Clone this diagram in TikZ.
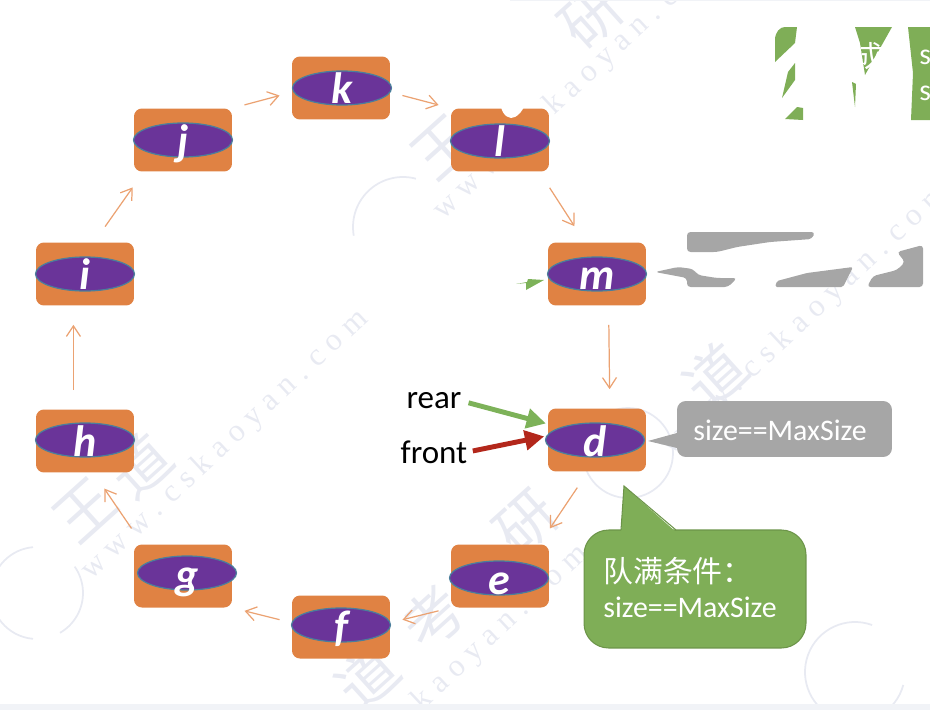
\documentclass[tikz,border=0pt]{standalone}
\usepackage{fontspec}
\setmainfont{Carlito}
\newfontfamily\cjk{Noto Sans CJK SC}
\newfontfamily\wmserif{Liberation Serif}
\usetikzlibrary{arrows.meta,shapes.geometric}
\definecolor{slotorange}{HTML}{E08243}
\definecolor{ovalpurple}{HTML}{6A3499}
\definecolor{ovalblue}{HTML}{4A7F9C}
\definecolor{flowline}{HTML}{EBA272}
\definecolor{notegreen}{HTML}{7FAE57}
\definecolor{noteedge}{HTML}{6C9449}
\definecolor{notegrey}{HTML}{A6A6A6}
\definecolor{rearline}{HTML}{7DB259}
\definecolor{frontline}{HTML}{B3271B}
\definecolor{wmcolor}{HTML}{E8EAF2}
\tikzset{
  slot/.style={draw=none,fill=slotorange,rounded corners=4.5pt,minimum width=1.96cm,minimum height=1.26cm,inner sep=0pt},
  oval/.style={ellipse,draw=ovalblue,line width=0.7pt,fill=ovalpurple,minimum width=1.98cm,minimum height=0.68cm,inner sep=0pt},
  letter/.style={text=white,inner sep=0pt,text height=0.64cm,text depth=0pt,font=\fontsize{25}{25}\selectfont\itshape\bfseries},
  flow/.style={draw=flowline,line width=0.7pt,-{Straight Barb[length=6pt,width=8pt]},shorten <=0.25cm,shorten >=0.25cm},
  flowlong/.style={flow,shorten <=0.38cm,shorten >=0.38cm},
  pointerlabel/.style={inner sep=0pt,font=\fontsize{18.8}{18.8}\selectfont},
  notetext/.style={text=white,inner sep=0pt,font=\fontsize{17}{21}\selectfont},
  wmtext/.style={text=wmcolor,inner sep=0pt,rotate=43,font=\wmserif\fontsize{18}{18}\selectfont},
  wmbig/.style={text=wmcolor,inner sep=0pt,rotate=42,font=\cjk\fontsize{34}{34}\selectfont},
  stamp/.style={draw=wmcolor,line width=1pt}
}
\begin{document}
\begin{tikzpicture}[x=0.02cm,y=-0.02cm]
	\useasboundingbox (0,0) rectangle (930,710);
	% watermark
	\node[wmtext] (wm1) at (225,445) {w w w . c s k a o y a n . c o m};
	\node[wmtext] (wm2) at (577,85) {w w w . c s k a o y a n . c o m};
	\node[wmtext] (wm3) at (805,320) {w w w . c s k a o y a n . c o m};
	\node[wmtext] (wm4) at (445,680) {w w w . c s k a o y a n . c o m};
	\node[wmbig] (wm5) at (85,510) {王};
	\node[wmbig] (wm6) at (140,465) {道};
	\node[wmbig] (wm7) at (443,147) {王};
	\node[wmbig] (wm8) at (592,17) {研};
	\node[wmbig] (wm9) at (527,523) {研};
	\node[wmbig] (wm10) at (433,617) {考};
	\node[wmbig] (wm11) at (367,677) {道};
	\node[wmbig] (wm12) at (715,375) {道};
	\draw[stamp] (37,593) ++(95:46) arc[start angle=95,end angle=265,radius=46];
	\draw[stamp] (37,593) ++(-35:46) arc[start angle=-35,end angle=60,radius=46];
	\draw[stamp] (403,227) ++(170:50) arc[start angle=170,end angle=285,radius=50];
	\draw[stamp] (628,453) circle (45);
	\draw[stamp] (855,672) ++(110:50) arc[start angle=110,end angle=290,radius=50];
	\draw[stamp] (855,672) ++(15:50) arc[start angle=15,end angle=60,radius=50];
	\fill[wmcolor!60] (0,704) rectangle (930,710);
	\fill[wmcolor!60] (510,0) rectangle (930,1);
	% slots
	\node[slot] (k) at (341,88) {};
	\node[slot] (j) at (183,140) {};
	\node[slot] (l) at (500,140) {};
	\node[slot] (i) at (85,274) {};
	\node[slot] (m) at (597,274) {};
	\node[slot] (h) at (85,441) {};
	\node[slot] (d) at (597,440) {};
	\node[slot] (g) at (183,576) {};
	\node[slot] (e) at (500,576) {};
	\node[slot] (f) at (341,627) {};
	% ovals
	\node[oval] (ko) at (342,88) {};
	\node[oval] (jo) at (183,140) {};
	\node[oval] (lo) at (500,141) {};
	\node[oval] (io) at (85,274) {};
	\node[oval] (mo) at (597,274) {};
	\node[oval] (ho) at (85,440) {};
	\node[oval] (do) at (595,440) {};
	\node[oval] (go) at (187,573) {};
	\node[oval] (eo) at (499,578) {};
	\node[oval] (fo) at (341,625) {};
	% letters
	\node[letter] (kt) at (ko) {k};
	\node[letter] (jt) at (jo) {j};
	\node[letter] (lt) at (lo) {l};
	\node[letter] (it) at (io) {i};
	\node[letter] (mt) at (mo) {m};
	\node[letter] (ht) at (ho) {h};
	\node[letter] (dt) at (do) {d};
	\node[letter] (gt) at (go) {g};
	\node[letter] (et) at (eo) {e};
	\node[letter] (ft) at (fo) {f};
	\fill[white] (501,107) .. controls (503,116) and (510,120) .. (515,117) .. controls (519,115) and (522,111) .. (524,107) -- cycle;
	% queue links
	\draw[flow] (j.north east) -- (k.185);
	\draw[flow] (k.-5) -- (l.north west);
	\draw[flowlong] (l.-39) -- (m.111);
	\draw[flowlong] (m.-70) -- (d.68);
	\draw[flowlong] (d.-106) -- (e.39);
	\draw[flow] (e.south west) -- (f.5);
	\draw[flow] (f.175) -- (g.south east);
	\draw[flowlong] (g.142) -- (h.-75);
	\draw[flowlong] (h.110) -- (i.-110);
	\draw[flowlong] (i.74) -- (j.-141);
	% pointers
	\node[pointerlabel] (rear) at (434,401) {rear};
	\node[pointerlabel] (front) at (434,452) {front};
	\draw[rearline,line width=2.8pt,-{Triangle[length=11pt,width=11pt]},shorten <=4pt,shorten >=1pt] (rear.east) -- (d.162);
	\draw[frontline,line width=2.8pt,-{Triangle[length=11pt,width=11pt]},shorten <=3pt,shorten >=2pt] (front.east) -- (d.175);
	% rear pointer piece next to m
	\fill[rearline] (516,284) -- (526,283) -- (526,290) -- (544,280) -- (528,279) -- (527,282) -- cycle;
	% full note, grey
	\fill[notegrey] (677,433) -- (648,441) -- (677,448) -- cycle;
	\node[fill=notegrey,rounded corners=5pt,minimum width=4.3cm,minimum height=1.12cm,inner sep=0pt] (sizebox) at (784.5,429) {};
	\node[notetext,anchor=west] (sizetext) at (693,430) {size==MaxSize};
	% full note, green
	\node[fill=notegreen,draw=noteedge,line width=0.6pt,rounded corners=14pt,minimum width=4.44cm,minimum height=2.36cm,inner sep=0pt] (fullbox) at (695,589) {};
	\fill[notegreen] (621,532) -- (624,486) -- (676,532) -- cycle;
	\draw[noteedge,line width=0.6pt] (621,530) -- (624,486) -- (676,530);
	\node[notetext,anchor=west] (fullhead) at (603,571) {\cjk 队满条件：};
	\node[notetext,anchor=west] (fulltext) at (603,607) {size==MaxSize};
	% grey pieces right of m
	\fill[notegrey,rounded corners=2pt] (687,252) -- (687,232) -- (815,232) -- (812,239) -- (770,242) -- (737,247) -- (717,252) -- cycle;
	\fill[notegrey,rounded corners=2pt] (655,272) -- (678,267) -- (693,269) -- (698,275) -- (717,278) -- (737,278) -- (728,287) -- (687,287) -- (687,278) -- cycle;
	\fill[notegrey,rounded corners=1pt] (775,287) -- (777,281) -- (807,273) -- (853,267) -- (843,287) -- cycle;
	\fill[notegrey,rounded corners=2pt] (867,287) -- (873,276) -- (897,270) -- (905,262) -- (897,252) -- (923,245) -- (923,287) -- cycle;
	% green pieces top right
	\fill[notegreen] (775,62) -- (775,40) .. controls (775,32) and (780,27) .. (785,27) -- (797,27) -- (795,43) -- cycle;
	\fill[notegreen] (795,63) -- (795,80) -- (782,98) -- (788,72) -- cycle;
	\fill[notegreen] (785,119) -- (797,107) -- (803,108) -- (803,120) -- cycle;
	\fill[notegreen] (855,27) -- (892,27) -- (865,75) -- (860,43) -- cycle;
	\fill[notegreen] (852,82) -- (855,107) -- (856,84) -- cycle;
	\fill[notegreen] (908,27) -- (930,27) -- (930,120) -- (911,120) -- (913,73) -- cycle;
	\begin{scope}
		\clip (855,27) -- (892,27) -- (865,75) -- (860,43) -- cycle;
		\node[notetext] (halfchar) at (868,56) {\cjk 成};
	\end{scope}
	\node[notetext,anchor=west] (sone) at (919,57) {s};
	\node[notetext,anchor=west] (stwo) at (919,93) {s};
\end{tikzpicture}
\end{document}
